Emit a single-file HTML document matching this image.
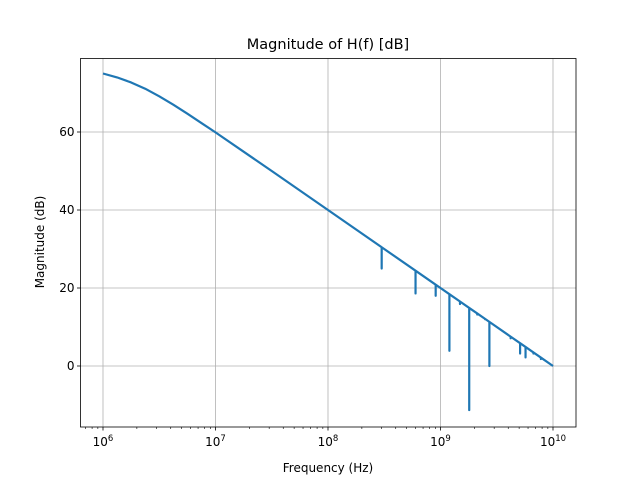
<!DOCTYPE html>
<html><head><meta charset="utf-8"><style>
body{margin:0;background:#fff;}
svg{display:block;font-family:"DejaVu Sans","Liberation Sans",sans-serif;}
</style></head><body>
<svg id="chart" width="640" height="480">
<g id="grid"></g>
<g id="series"></g>
<rect x="80.5" y="58.5" width="495.5" height="368.5" fill="none" stroke="#000" stroke-width="0.8"/>
<g id="ticks"></g>
<text x="328" y="49" font-size="14.5" text-anchor="middle">Magnitude of H(f) [dB]</text>
<text x="328" y="472" font-size="12" text-anchor="middle">Frequency (Hz)</text>
<text x="0" y="0" font-size="12" text-anchor="middle" transform="translate(44,242) rotate(-90)">Magnitude (dB)</text>
</svg>
<script>
const curveLogF = [6,6.125,6.25,6.375,6.5,6.625,6.75,6.875,7,7.25,7.5,8,9,10];
const curveDb = [75.0,74.0,72.7,71.1,69.15,67.0,64.7,62.3,59.9,54.95,50.0,40.0,20.0,0.0];
const spikeFreq = [3.0e8,6.0e8,9.06e8,1.2e9,1.49e9,1.8e9,2.12e9,2.49e9,2.72e9,4.2e9,5.1e9,5.7e9,6.7e9,7.8e9];
const spikeMinDb = [25.0,18.6,18.0,3.9,15.9,-11.3,13.2,12.0,0.0,7.1,3.2,2.2,3.2,1.8];
const yTicks = [0,20,40,60];
const xTickExp = [6,7,8,9,10];

const NS="http://www.w3.org/2000/svg";
const L=80.5,R=576,T=58.5,B=427;
const xLogMin=5.818,xLogMax=10.1955;
const yMin=-15.6,yMax=79.0;
function xs(lf){return 103+(lf-6)*112.5;}
function ys(v){return 366-v*3.9;}
function curveAt(lf){
  for(let i=0;i<curveLogF.length-1;i++){
    if(lf>=curveLogF[i]&&lf<=curveLogF[i+1]){
      const t=(lf-curveLogF[i])/(curveLogF[i+1]-curveLogF[i]);
      return curveDb[i]+t*(curveDb[i+1]-curveDb[i]);
    }
  }
  return curveDb[curveDb.length-1];
}
function mk(tag,attrs,parent){const e=document.createElementNS(NS,tag);for(const k in attrs)e.setAttribute(k,attrs[k]);parent.appendChild(e);return e;}
const grid=document.getElementById('grid'),ticks=document.getElementById('ticks'),series=document.getElementById('series');
xTickExp.forEach(e=>{
  const x=xs(e);
  const g=mk('line',{x1:x,x2:x,y1:T,y2:B,stroke:'#b0b0b0','stroke-width':0.8},grid);
  
  
  mk('line',{x1:x,x2:x,y1:B,y2:B+3.5,stroke:'#000','stroke-width':0.8},ticks);
  const t=mk('text',{x:x,y:B+19,'font-size':12,'text-anchor':'middle'},ticks);
  
  
  t.textContent='10';
  const s=mk('tspan',{dy:-5,'font-size':8.5},t);s.textContent=String(e);
});
for(let d=5;d<=10;d++){for(let m=2;m<=9;m++){
  const lf=d+Math.log10(m);if(lf<xLogMin||lf>xLogMax)continue;
  const x=xs(lf);mk('line',{x1:x,x2:x,y1:B,y2:B+2,stroke:'#000','stroke-width':0.6},ticks);
}}
yTicks.forEach(v=>{
  const y=ys(v);
  const g=mk('line',{x1:L,x2:R,y1:y,y2:y,stroke:'#b0b0b0','stroke-width':0.8},grid);
  
  
  mk('line',{x1:L-3.5,x2:L,y1:y,y2:y,stroke:'#000','stroke-width':0.8},ticks);
  const t=mk('text',{x:L-6,y:y+4,'font-size':12,'text-anchor':'end'},ticks);
  
  
  t.textContent=String(v);
});
// build path
let pts=curveLogF.map((lf,i)=>({lf:lf,v:curveDb[i],spike:null}));
spikeFreq.forEach((f,i)=>pts.push({lf:Math.log10(f),v:null,spike:spikeMinDb[i]}));
pts.sort((a,b)=>a.lf-b.lf);
let d='';
pts.forEach((p,i)=>{
  const x=xs(p.lf);
  if(p.spike===null){d+=(i?'L':'M')+x.toFixed(2)+','+ys(p.v).toFixed(2);}
  else{const c=curveAt(p.lf);d+='L'+x.toFixed(2)+','+ys(c).toFixed(2)+'L'+x.toFixed(2)+','+ys(p.spike).toFixed(2)+'L'+x.toFixed(2)+','+ys(c).toFixed(2);}
});
const path=mk('path',{d:d,fill:'none',stroke:'#1f77b4','stroke-width':2.2,'stroke-linejoin':'round'},series);


</script>
</body></html>
